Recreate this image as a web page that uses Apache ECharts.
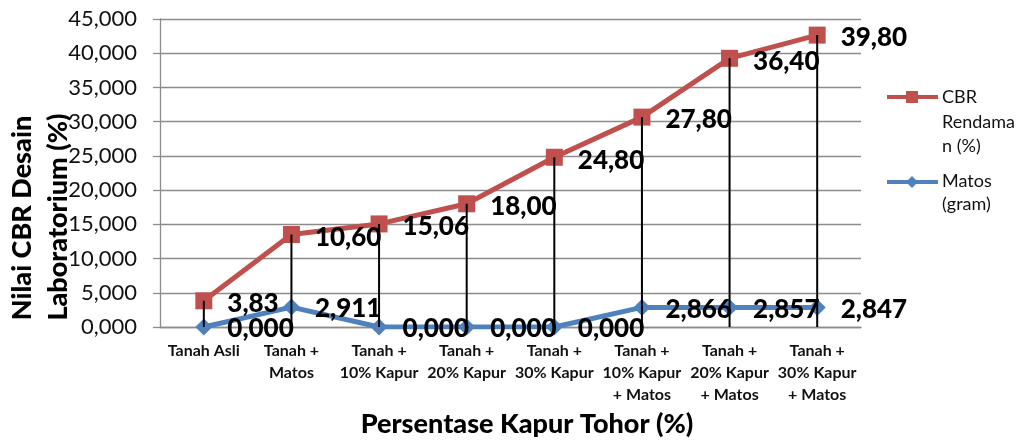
<!DOCTYPE html>
<html>
<head>
<meta charset="utf-8">
<script src="https://cdn.jsdelivr.net/npm/echarts@6/dist/echarts.min.js"></script>
<style>html,body{margin:0;padding:0;background:#fff}#c{width:1021px;height:442px}</style>
</head>
<body>
<div id="c"></div>
<script>
const categories = ['Tanah Asli', 'Tanah +\nMatos', 'Tanah +\n10% Kapur', 'Tanah +\n20% Kapur', 'Tanah +\n30% Kapur', 'Tanah +\n10% Kapur\n+ Matos', 'Tanah +\n20% Kapur\n+ Matos', 'Tanah +\n30% Kapur\n+ Matos'];
const matos = [0, 2.911, 0, 0, 0, 2.866, 2.857, 2.847];
const cbr = [3.83, 10.60, 15.06, 18.00, 24.80, 27.80, 36.40, 39.80];
const yTicks = { min: 0, max: 45, interval: 5 };

const totals = cbr.map((v, i) => v + matos[i]);
const fmt = (v, d) => v.toFixed(d).replace('.', ',');
const FONT = 'Lato';
const RED = '#C0504D', BLUE = '#4F81BD';

const chart = echarts.init(document.getElementById('c'));
chart.setOption({
  animation: false,
  textStyle: { fontFamily: FONT },
  grid: { left: 160, right: 160, top: 19, bottom: 115, containLabel: false },
  xAxis: {
    type: 'category', data: categories, boundaryGap: true,
    axisLine: { lineStyle: { color: '#8c8c8c', width: 1.3 } },
    axisTick: { show: false },
    axisLabel: { fontFamily: FONT, fontWeight: 'bold', fontSize: 16, color: '#111', lineHeight: 22, margin: 13, interval: 0 }
  },
  yAxis: {
    type: 'value', min: yTicks.min, max: yTicks.max, interval: yTicks.interval,
    axisLine: { show: true, lineStyle: { color: '#8c8c8c', width: 1.3 } },
    axisTick: { show: true, length: 7, lineStyle: { color: '#8c8c8c', width: 1.3 } },
    splitLine: { lineStyle: { color: '#8c8c8c', width: 1.3 } },
    axisLabel: { fontFamily: FONT, fontSize: 22, color: '#111', margin: 23, formatter: v => fmt(v, 3) }
  },
  series: [
    {
      name: 'Matos (gram)', type: 'line', stack: 'a', data: matos,
      symbol: 'diamond', symbolSize: 17, z: 3,
      lineStyle: { color: BLUE, width: 5 }, itemStyle: { color: BLUE },
      label: { show: true, position: 'right', distance: 15, offset: [0, 2], fontFamily: FONT, fontWeight: 900, fontSize: 26, color: '#000', formatter: p => fmt(matos[p.dataIndex], 3) }
    },
    {
      name: 'CBR Rendaman (%)', type: 'line', stack: 'a', data: cbr,
      symbol: 'rect', symbolSize: 17, z: 3,
      lineStyle: { color: RED, width: 5 }, itemStyle: { color: RED },
      label: { show: true, position: 'right', distance: 15, offset: [0, 3], fontFamily: FONT, fontWeight: 900, fontSize: 26, color: '#000', formatter: p => fmt(cbr[p.dataIndex], 2) }
    },
    {
      name: 'drop', type: 'bar', data: totals, barWidth: 2, silent: true, z: 4,
      itemStyle: { color: '#000' }
    }
  ],
  graphic: [
    { type: 'text', x: 22, y: 218, rotation: Math.PI / 2, style: { text: 'Nilai CBR Desain', font: '900 27px Lato', fill: '#000', align: 'center', verticalAlign: 'middle' } },
    { type: 'text', x: 58, y: 217, rotation: Math.PI / 2, style: { text: 'Laboratorium (%)', font: '900 27px Lato', fill: '#000', align: 'center', verticalAlign: 'middle' } },
    { type: 'text', x: 527, y: 424, style: { text: 'Persentase Kapur Tohor (%)', font: '900 27px Lato', fill: '#000', align: 'center', verticalAlign: 'middle' } },
    { type: 'line', shape: { x1: 887, y1: 97, x2: 938, y2: 97 }, style: { stroke: RED, lineWidth: 4 } },
    { type: 'rect', shape: { x: 906, y: 91, width: 12, height: 12 }, style: { fill: RED } },
    { type: 'text', x: 942, y: 85, style: { text: 'CBR\nRendama\nn (%)', font: '18px Lato', fill: '#111', lineHeight: 24.5, verticalAlign: 'top', align: 'left' } },
    { type: 'line', shape: { x1: 887, y1: 182, x2: 938, y2: 182 }, style: { stroke: BLUE, lineWidth: 4 } },
    { type: 'polygon', shape: { points: [[912, 176], [918, 182], [912, 188], [906, 182]] }, style: { fill: BLUE } },
    { type: 'text', x: 942, y: 170, style: { text: 'Matos\n(gram)', font: '18px Lato', fill: '#111', lineHeight: 23, verticalAlign: 'top', align: 'left' } }
  ]
});
</script>
</body>
</html>
